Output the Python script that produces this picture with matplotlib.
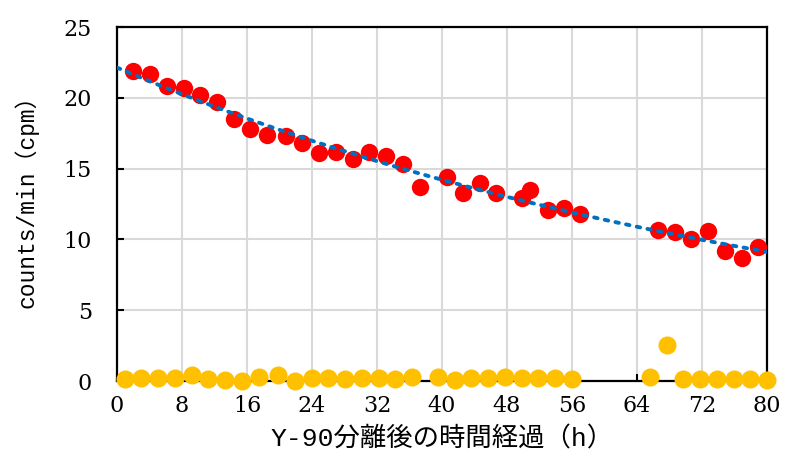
import numpy as np
import matplotlib
matplotlib.use("Agg")
import matplotlib.pyplot as plt

# datos (horas, cpm)
horas_muestra = [2.0, 4.1, 6.1, 8.2, 10.2, 12.3, 14.4, 16.4, 18.5, 20.8, 22.8, 24.9,
                 26.9, 29.0, 31.0, 33.1, 35.2, 37.3, 40.6, 42.6, 44.7, 46.7, 49.8, 50.8,
                 53.0, 55.0, 57.0, 66.6, 68.7, 70.7, 72.8, 74.8, 76.9, 78.9]
cpm_muestra = [21.9, 21.7, 20.8, 20.7, 20.2, 19.7, 18.5, 17.8, 17.4, 17.3, 16.8, 16.1,
               16.2, 15.7, 16.2, 15.9, 15.3, 13.7, 14.4, 13.3, 14.0, 13.3, 12.9, 13.5,
               12.1, 12.2, 11.8, 10.7, 10.5, 10.0, 10.6, 9.2, 8.7, 9.5]

horas_fondo = [1.0, 3.0, 5.0, 7.1, 9.2, 11.2, 13.3, 15.4, 17.5, 19.8, 21.9, 24.0,
               26.0, 28.1, 30.1, 32.2, 34.2, 36.3, 39.5, 41.6, 43.6, 45.7, 47.7, 49.8,
               51.8, 53.9, 56.0, 65.6, 67.7, 69.7, 71.8, 73.8, 75.9, 77.9, 80.0]
cpm_fondo = [0.14, 0.23, 0.19, 0.19, 0.42, 0.12, 0.07, 0.02, 0.31, 0.42, 0.02, 0.19,
             0.19, 0.12, 0.19, 0.23, 0.14, 0.28, 0.26, 0.07, 0.19, 0.19, 0.30, 0.19,
             0.19, 0.19, 0.12, 0.30, 2.55, 0.12, 0.12, 0.12, 0.12, 0.12, 0.07]

xticks = [0, 8, 16, 24, 32, 40, 48, 56, 64, 72, 80]
yticks = [0, 5, 10, 15, 20, 25]

# linea de tendencia exponencial
b, a = np.polyfit(horas_muestra, np.log(cpm_muestra), 1)
xt = np.linspace(0, 80, 300)
yt = np.exp(a) * np.exp(b * xt)

fig = plt.figure(figsize=(7.85, 4.58), dpi=100)
ax = fig.add_axes([0.149, 0.168, 0.828, 0.773])

ax.plot(horas_muestra, cpm_muestra, "o", color="#FF0000", markersize=12.5,
        markeredgewidth=0, zorder=3)
ax.plot(xt, yt, linestyle=(0, (0.9, 1.9)), color="#0070C0", linewidth=2.8,
        dash_capstyle="round", zorder=4)
ax.plot(horas_fondo, cpm_fondo, "o", color="#FFC000", markersize=13,
        markeredgewidth=0, zorder=5, clip_on=False)

ax.set_xlim(0, 80)
ax.set_ylim(0, 25)
ax.set_xticks(xticks)
ax.set_yticks(yticks)
ax.grid(True, color="#D9D9D9", linewidth=1.5)
ax.set_axisbelow(True)
for s in ax.spines.values():
    s.set_linewidth(1.6)
    s.set_color("black")

tick_font = {"family": "DejaVu Serif", "size": 16}
ax.set_xticklabels([str(t) for t in xticks], **tick_font)
ax.set_yticklabels([str(t) for t in yticks], **tick_font)
ax.tick_params(axis="both", direction="in", length=5, width=1.5)
ax.tick_params(axis="x", pad=10)
ax.tick_params(axis="y", pad=18)

fuente_eje = ["Liberation Mono", "Noto Sans CJK JP"]
ax.set_ylabel("counts/min（cpm）", family=fuente_eje, fontsize=16.5)
ax.yaxis.set_label_coords(-0.12, 0.523)
ax.set_xlabel("Y-90分離後の時間経過（h）", family=fuente_eje, fontsize=19)
ax.xaxis.set_label_coords(0.5, -0.128)

plt.savefig("out.png", dpi=100)
